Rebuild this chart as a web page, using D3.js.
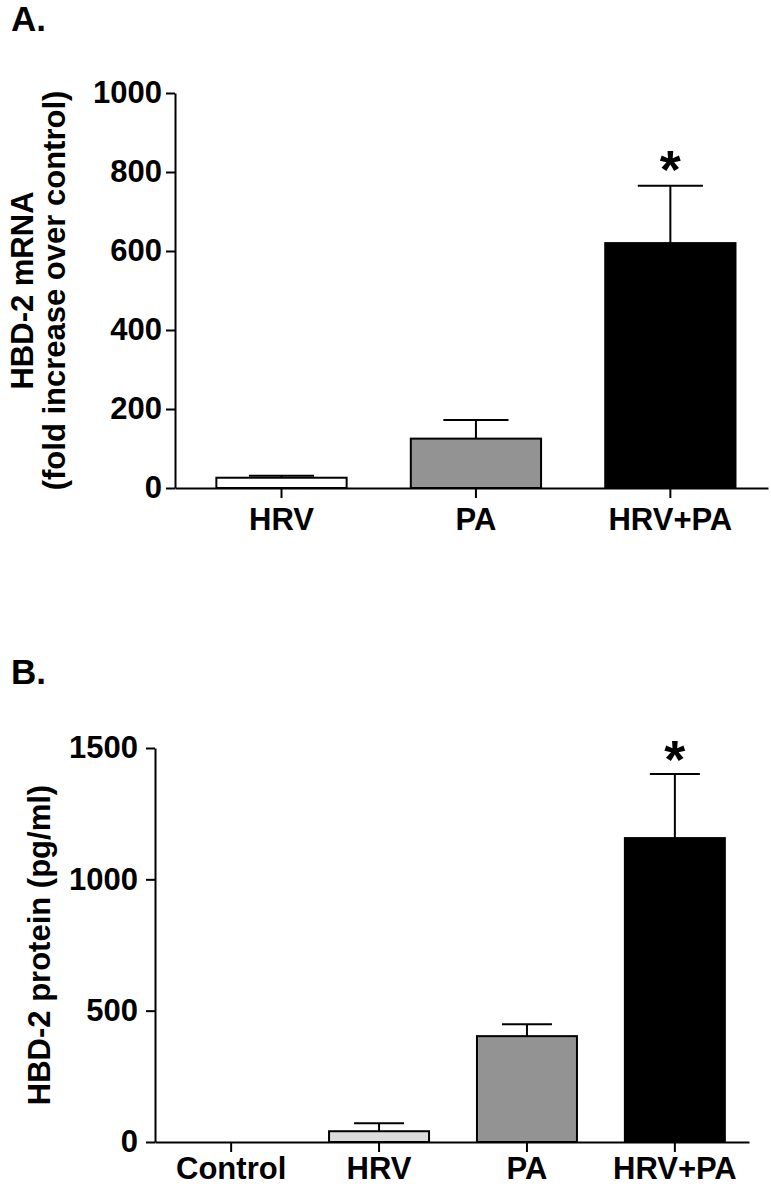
<!DOCTYPE html>
<html>
<head>
<meta charset="utf-8">
<script src="https://cdn.jsdelivr.net/npm/d3@7"></script>
<style>
	body { margin: 0; background: #fff; }
	text { font-family: Arial, "Liberation Sans", sans-serif; font-weight: bold; }
</style>
</head>
<body>
<div id="chart"></div>
<script>
// panel A: HBD-2 mRNA
const catsA = ['HRV', 'PA', 'HRV+PA']
const meanA = [26, 125, 620]
const errA = [5, 47, 145]
const fillA = ['#ffffff', '#939393', '#000000']
const ticksA = [0, 200, 400, 600, 800, 1000]
const starA = [false, false, true]

// panel B: HBD-2 protein
const catsB = ['Control', 'HRV', 'PA', 'HRV+PA']
const meanB = [0, 41, 403, 1157]
const errB = [0, 30, 45, 244]
const fillB = ['#ffffff', '#dcdcdc', '#939393', '#000000']
const ticksB = [0, 500, 1000, 1500]
const starB = [false, false, false, true]

const svg = d3.select('#chart')
	.append('svg')
	.attr('width', 771)
	.attr('height', 1187)

function drawPanel(cfg) {
	const g = svg.append('g')

	const xScale = d3.scaleBand()
		.domain(cfg.cats)
		.range([cfg.left, cfg.right])
		.paddingInner(cfg.pin)
		.paddingOuter(cfg.pout)
		.align(cfg.align)

	const yScale = d3.scaleLinear()
		.domain([0, cfg.ticks[cfg.ticks.length - 1]])
		.range([cfg.bottom, cfg.top])

	// bars
	cfg.cats.forEach((c, i) => {
		if (cfg.mean[i] <= 0) return
		g.append('rect')
			.attr('x', xScale(c))
			.attr('y', yScale(cfg.mean[i]))
			.attr('width', xScale.bandwidth())
			.attr('height', yScale(0) - yScale(cfg.mean[i]))
			.attr('fill', cfg.fill[i])
			.attr('stroke', '#000')
			.attr('stroke-width', 2)
	})

	// upper error bars
	cfg.cats.forEach((c, i) => {
		if (cfg.err[i] <= 0) return
		const cx = xScale(c) + xScale.bandwidth() / 2
		const hw = xScale.bandwidth() / 4
		const yTop = yScale(cfg.mean[i] + cfg.err[i])
		g.append('line')
			.attr('x1', cx).attr('x2', cx)
			.attr('y1', yScale(cfg.mean[i])).attr('y2', yTop)
			.attr('stroke', '#000').attr('stroke-width', 2)
		g.append('line')
			.attr('x1', cx - hw).attr('x2', cx + hw)
			.attr('y1', yTop).attr('y2', yTop)
			.attr('stroke', '#000').attr('stroke-width', 2)
		if (cfg.star[i]) {
			g.append('text')
				.attr('x', cx)
				.attr('y', yTop + cfg.starDy)
				.attr('text-anchor', 'middle')
				.attr('font-size', 54)
				.text('*')
		}
	})

	// y axis
	const yAxis = g.append('g')
		.attr('transform', 'translate(' + cfg.left + ',0)')
		.call(d3.axisLeft(yScale)
			.tickValues(cfg.ticks)
			.tickFormat(d3.format('d'))
			.tickSize(9)
			.tickSizeOuter(0)
			.tickPadding(cfg.tickPad))
	yAxis.selectAll('text').attr('font-size', 31).attr('fill', '#000')
	yAxis.selectAll('line, path').attr('stroke', '#000').attr('stroke-width', 2)

	// x axis
	const xAxis = g.append('g')
		.attr('transform', 'translate(0,' + cfg.bottom + ')')
		.call(d3.axisBottom(xScale)
			.tickSize(10)
			.tickSizeOuter(0)
			.tickPadding(cfg.xPad))
	xAxis.selectAll('text').attr('font-size', 31).attr('fill', '#000')
	xAxis.selectAll('line, path').attr('stroke', '#000').attr('stroke-width', 2)

	// y label
	const cy = (cfg.top + cfg.bottom) / 2
	cfg.ylab.forEach((t, k) => {
		g.append('text')
			.attr('transform', 'translate(' + cfg.ylabX[k] + ',' + cy + ') rotate(-90)')
			.attr('text-anchor', 'middle')
			.attr('font-size', 31)
			.text(t)
	})

	// panel letter
	g.append('text')
		.attr('x', 11)
		.attr('y', cfg.letterY)
		.attr('font-size', 35)
		.text(cfg.letter)
}

drawPanel({
	cats: catsA, mean: meanA, err: errA, fill: fillA, ticks: ticksA, star: starA,
	left: 175, right: 768, top: 93, bottom: 488,
	pin: 0.33, pout: 0.19, align: 0.56, tickPad: 4, xPad: 10,
	ylab: ['HBD-2 mRNA', '(fold increase over control)'], ylabX: [33, 65],
	letter: 'A.', letterY: 31, starDy: 2
})

drawPanel({
	cats: catsB, mean: meanB, err: errB, fill: fillB, ticks: ticksB, star: starB,
	left: 155, right: 749, top: 748, bottom: 1142,
	pin: 0.324, pout: 0.17, align: 0.52, tickPad: 8, xPad: 5,
	ylab: ['HBD-2 protein (pg/ml)'], ylabX: [50],
	letter: 'B.', letterY: 684, starDy: 4
})
</script>
</body>
</html>
